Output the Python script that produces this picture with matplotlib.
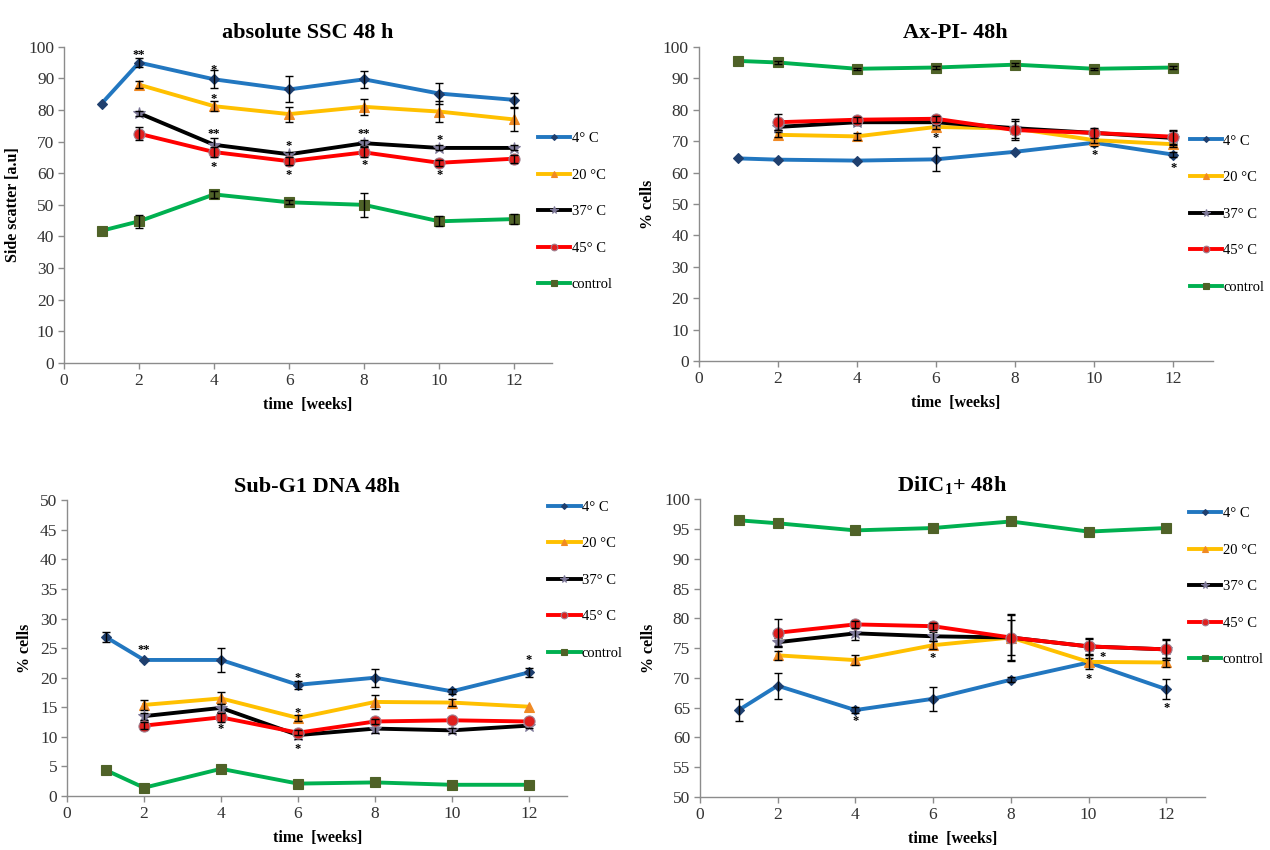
import numpy as np
import matplotlib
matplotlib.use("Agg")
import matplotlib.pyplot as plt

plt.rcParams['font.family'] = ['Liberation Serif', 'DejaVu Serif']
plt.rcParams['mathtext.fontset'] = 'custom'
plt.rcParams['mathtext.bf'] = 'Liberation Serif:bold'
plt.rcParams['mathtext.rm'] = 'Liberation Serif'

nan = np.nan

# ---------------- data ----------------
WEEKS = [1, 2, 4, 6, 8, 10, 12]
LABELS = ["4° C", "20 °C", "37° C", "45° C", "control"]

# absolute SSC 48 h
ssc_vals = [
    [82.0, 95.0, 89.7, 86.5, 89.7, 85.2, 83.2],
    [nan, 88.0, 81.2, 78.7, 81.0, 79.5, 77.0],
    [nan, 79.0, 69.0, 66.0, 69.5, 68.0, 68.0],
    [nan, 72.5, 66.7, 63.8, 66.6, 63.3, 64.6],
    [41.8, 44.8, 53.3, 50.8, 50.0, 44.8, 45.5],
]
ssc_err = [
    [0, 1.5, 2.8, 4.1, 2.7, 3.3, 2.1],
    [0, 1.2, 1.6, 2.4, 2.6, 3.2, 3.5],
    [0, 0.8, 2.1, 0.8, 1.0, 0.8, 0.8],
    [0, 2.1, 1.5, 1.2, 1.6, 1.0, 1.3],
    [0, 2.0, 1.0, 0.6, 3.7, 1.6, 1.5],
]
ssc_stars = [(2, 97.5, "**"), (4, 92.5, "*"), (4, 83.5, "*"), (4, 72.5, "**"),
             (4, 62.0, "*"), (6, 68.5, "*"), (6, 59.5, "*"), (8, 72.5, "**"),
             (8, 62.5, "*"), (10, 70.5, "*"), (10, 59.5, "*")]

# Ax-PI- 48h
ax_vals = [
    [64.5, 64.1, 63.8, 64.2, 66.6, 69.5, 65.7],
    [nan, 72.0, 71.5, 74.5, 74.0, 70.3, 69.0],
    [nan, 74.5, 76.0, 76.0, 74.1, 72.6, 71.0],
    [nan, 76.0, 76.8, 77.1, 73.5, 72.6, 71.4],
    [95.5, 95.0, 93.0, 93.4, 94.3, 93.0, 93.4],
]
ax_err = [
    [0, 0, 0, 3.8, 0, 1.0, 0.8],
    [0, 0.8, 1.2, 0.8, 0.5, 1.0, 1.0],
    [0, 1.0, 0.8, 0.8, 3.0, 1.2, 2.2],
    [0, 2.6, 1.0, 1.0, 3.0, 1.6, 2.2],
    [0, 0.4, 0.4, 0.4, 0.4, 0.4, 0.4],
]
ax_stars = [(6, 71.0, "*"), (10, 65.5, "*"), (12, 61.5, "*")]

# Sub-G1 DNA 48h
sg_vals = [
    [26.9, 23.0, 23.0, 18.8, 20.0, 17.7, 20.9],
    [nan, 15.4, 16.5, 13.2, 15.9, 15.8, 15.1],
    [nan, 13.5, 14.9, 10.3, 11.4, 11.1, 11.9],
    [nan, 11.9, 13.3, 10.7, 12.6, 12.8, 12.6],
    [4.4, 1.4, 4.6, 2.1, 2.3, 1.9, 1.9],
]
sg_err = [
    [0.9, 0.3, 2.1, 0.7, 1.5, 0.4, 0.8],
    [0, 0.8, 1.0, 0.5, 1.2, 0.6, 0.3],
    [0, 0.6, 0.7, 0.6, 0.7, 0.4, 0.4],
    [0, 0.6, 0.8, 0.4, 0.4, 0.3, 0.3],
    [0, 0.2, 0.2, 0.2, 0.2, 0.2, 0.2],
]
sg_stars = [(2, 24.6, "**"), (4, 11.3, "*"), (6, 20.0, "*"), (6, 14.0, "*"),
            (6, 8.0, "*"), (12, 23.0, "*")]

# DiIC1+ 48h
di_vals = [
    [64.6, 68.7, 64.6, 66.5, 69.7, 72.6, 68.1],
    [nan, 73.8, 73.0, 75.5, 76.8, 72.7, 72.6],
    [nan, 76.0, 77.5, 77.0, 76.8, 75.3, 74.8],
    [nan, 77.6, 79.0, 78.7, 76.8, 75.3, 74.8],
    [96.5, 96.0, 94.8, 95.2, 96.3, 94.6, 95.2],
]
di_err = [
    [1.9, 2.2, 0.5, 2.0, 0.4, 0.8, 1.7],
    [0, 0.8, 0.8, 0.7, 3.8, 1.2, 0.8],
    [0, 0.8, 1.2, 0.8, 3.0, 1.2, 1.5],
    [0, 2.3, 0.6, 0.6, 4.0, 1.5, 1.8],
    [0, 0.3, 0.3, 0.3, 0.3, 0.3, 0.3],
]
di_stars = [(4, 62.8, "*"), (6, 73.4, "*"), (10, 69.8, "*"), (10.35, 73.6, "*"),
            (12, 65.0, "*")]

# ---------------- styles ----------------
LINE_COLORS = ["#2277C0", "#FFC000", "#000000", "#FF0000", "#00B050"]
MARKERS = ["D", "^", "*", "o", "s"]
MFC = ["#1F3F6E", "#F08A24", "#7F7A9A", "#E0201E", "#4F6228"]
MEC = ["#1F3F6E", "#F08A24", "#7F7A9A", "#A08090", "#4F6228"]
MS = [5, 7, 9, 8, 7]
AX_GREY = "#8C8C8C"

panels = [
    dict(title="absolute SSC 48 h", ylabel="Side scatter [a.u]", vals=ssc_vals,
         err=ssc_err, stars=ssc_stars, ylim=(0, 100), ystep=10,
         rect=[0.0504, 0.573, 0.384, 0.372], leg=(0.972, 0.478)),
    dict(title="Ax-PI- 48h", ylabel="% cells", vals=ax_vals, err=ax_err,
         stars=ax_stars, ylim=(0, 100), ystep=10,
         rect=[0.550, 0.575, 0.405, 0.370], leg=(0.955, 0.468)),
    dict(title="Sub-G1 DNA 48h", ylabel="% cells", vals=sg_vals, err=sg_err,
         stars=sg_stars, ylim=(0, 50), ystep=5,
         rect=[0.0528, 0.0635, 0.394, 0.348], leg=(0.962, 0.73)),
    dict(title=r"DiIC$_\mathbf{1}$+ 48h", ylabel="% cells", vals=di_vals,
         err=di_err, stars=di_stars, ylim=(50, 100), ystep=5,
         rect=[0.551, 0.0624, 0.398, 0.350], leg=(0.968, 0.707)),
]

fig = plt.figure(figsize=(12.7, 8.5), dpi=100)

for p in panels:
    ax = fig.add_axes(p["rect"])
    x = np.array(WEEKS, dtype=float)
    handles = []
    for i, lab in enumerate(LABELS):
        y = np.array(p["vals"][i], dtype=float)
        e = np.array(p["err"][i], dtype=float)
        ok = ~np.isnan(y)
        h, = ax.plot(x[ok], y[ok], color=LINE_COLORS[i], lw=2.8,
                     marker=MARKERS[i], ms=MS[i], mfc=MFC[i], mec=MEC[i],
                     mew=0.8, label=lab, zorder=2 + i)
        handles.append(h)
        m = ok & (e > 0.35)
        ax.errorbar(x[m], y[m], yerr=e[m], fmt="none", ecolor="black",
                    elinewidth=1.0, capsize=3, capthick=1.0, zorder=2 + i + 0.5)
    for sx, sy, s in p["stars"]:
        ax.text(sx, sy, s, ha="center", va="center", fontsize=9,
                fontweight="bold", zorder=10)

    ax.set_xlim(0, 13)
    ax.set_ylim(*p["ylim"])
    ax.set_xticks(range(0, 13, 2))
    ax.set_yticks(np.arange(p["ylim"][0], p["ylim"][1] + 0.1, p["ystep"]))
    for s in ["top", "right"]:
        ax.spines[s].set_visible(False)
    for s in ["left", "bottom"]:
        ax.spines[s].set_color(AX_GREY)
        ax.spines[s].set_linewidth(1.0)
    ax.tick_params(axis="both", direction="out", length=4, width=1,
                   color=AX_GREY, labelsize=12.5, labelcolor="#333333", pad=3)
    ax.set_title(p["title"], fontsize=16, fontweight="bold", pad=6)
    ax.set_xlabel("time  [weeks]", fontsize=11.5, fontweight="bold", labelpad=6)
    ax.set_ylabel(p["ylabel"], fontsize=11.5, fontweight="bold", labelpad=5)

    ax.legend(handles=handles, loc="center left", bbox_to_anchor=p["leg"],
              frameon=False, fontsize=10.5, handlelength=2.2, handletextpad=0.1,
              labelspacing=1.6, borderpad=0, borderaxespad=0, markerscale=0.6)

fig.savefig("out.png", dpi=100)
